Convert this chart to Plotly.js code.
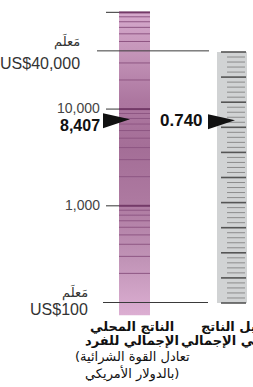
<!DOCTYPE html>
<html><head><meta charset="utf-8">
<script src="https://cdn.plot.ly/plotly-3.0.1.min.js"></script>
<style>html,body{margin:0;padding:0;background:#fff;}#chart{width:253px;height:387px;}</style>
</head><body><div id="chart"></div>
<script>
// ---- data ----
const gdpRange = [74, 100000];
const gdpMajorTicks = [1000, 10000, 100000];
const gdpMinorTicks = [200,300,400,500,600,700,800,900,2000,3000,4000,5000,6000,7000,8000,9000,20000,30000,50000,60000,70000,80000,90000];
const gdpGoalposts = [100, 40000];
const gdpGoalpostLabels = ['US$100', 'US$40,000'];
const goalpostWord = 'مَعلَم';
const gdpTickLabelValues = [1000, 10000];
const gdpTickLabels = ['1,000', '10,000'];
const gdpValue = [8407];
const gdpValueLabel = ['8,407'];
const indexRange = [0, 1];
const indexMajorTicks = [0,0.1,0.2,0.3,0.4,0.5,0.6,0.7,0.8,0.9,1.0];
const indexMinorTicks = [0.02,0.04,0.06,0.08,0.12,0.14,0.16,0.18,0.22,0.24,0.26,0.28,0.32,0.34,0.36,0.38,0.42,0.44,0.46,0.48,0.52,0.54,0.56,0.58,0.62,0.64,0.66,0.68,0.72,0.74,0.76,0.78,0.82,0.84,0.86,0.88,0.92,0.94,0.96,0.98];
const indexValue = [0.740];
const indexValueLabel = ['0.740'];
const gdpTitle = ['الناتج المحلي', 'الإجمالي للفرد'];
const gdpSubtitle = ['(تعادل القوة الشرائية', 'بالدولار الأمريكي)'];
const indexTitle = ['دليل الناتج', 'المحلي الإجمالي'];

// ---- layout constants ----
const LB = [119, 150];   // left bar x extent
const RB = [217, 247];   // right bar x extent
const NUMF = 'Liberation Sans, Arial, sans-serif';
const ARF = 'DejaVu Sans, sans-serif';

function segs(vals, x0, x1) {
  const x = [], y = [];
  vals.forEach(v => { x.push(x0, x1, null); y.push(v, v, null); });
  return {x, y};
}
function lineTrace(vals, x0, x1, color, width, yaxis) {
  const s = segs(vals, x0, x1);
  return {type:'scatter', mode:'lines', x:s.x, y:s.y, yaxis:yaxis,
    line:{color:color, width:width}, hoverinfo:'skip', showlegend:false};
}

const traces = [];
// left gradient bar
traces.push({type:'scatter', mode:'lines', x:[LB[0],LB[1],LB[1],LB[0],LB[0]],
  y:[gdpRange[0],gdpRange[0],gdpRange[1],gdpRange[1],gdpRange[0]], yaxis:'y',
  fill:'toself', line:{width:0, color:'rgba(0,0,0,0)'},
  fillgradient:{type:'vertical', colorscale:[
    [0,'#dcaed2'],[0.18,'#c194b7'],[0.38,'#ad79a0'],[0.55,'#a46e97'],
    [0.71,'#ad77a0'],[0.875,'#c596ba'],[1,'#d6a9cc']]},
  hoverinfo:'skip', showlegend:false});
traces.push(lineTrace(gdpMinorTicks, LB[0], LB[1], '#8e5683', 1, 'y'));
traces.push(lineTrace(gdpMajorTicks, LB[0], LB[1], '#743a68', 2, 'y'));
traces.push(lineTrace(gdpMajorTicks, 106, LB[0], '#555555', 1.2, 'y'));
// right grey bar
traces.push({type:'bar', x:[(RB[0]+RB[1])/2], y:[indexRange[1]-indexRange[0]], base:[indexRange[0]],
  width:[RB[1]-RB[0]], yaxis:'y2', marker:{color:'#d1d3d4', line:{width:0}},
  hoverinfo:'skip', showlegend:false});
traces.push(lineTrace(indexMinorTicks, 227, 245, '#8c8c8c', 1, 'y2'));
traces.push(lineTrace(indexMajorTicks, 221, 246, '#555555', 1.6, 'y2'));
// goalpost lines
traces.push({type:'scatter', mode:'lines', x:[97,209,null,103,208], y:[gdpGoalposts[1],gdpGoalposts[1],null,gdpGoalposts[0],gdpGoalposts[0]],
  yaxis:'y', line:{color:'#3a3a3a', width:1}, hoverinfo:'skip', showlegend:false});

const L = Math.log10;
const shapes = [
  {type:'path', xref:'x', yref:'y', xsizemode:'pixel', ysizemode:'pixel', xanchor:130, yanchor:gdpValue[0],
   path:'M-27,3 L0,-3 L-27,-12 Z', fillcolor:'#111', line:{width:0}},
  {type:'path', xref:'x', yref:'y2', xsizemode:'pixel', ysizemode:'pixel', xanchor:235, yanchor:indexValue[0],
   path:'M-27,3 L0,-3 L-27,-12 Z', fillcolor:'#111', line:{width:0}}
];

const ann = [];
function A(o) { ann.push(Object.assign({showarrow:false, xref:'x'}, o)); }
gdpTickLabelValues.forEach((v,i) => A({x:102, y:L(v), yref:'y', xanchor:'right', yanchor:'middle', yshift:1,
  text:gdpTickLabels[i], font:{family:NUMF, size:14, color:'#444'}}));
A({x:102, y:L(gdpValue[0]), yref:'y', xanchor:'right', yanchor:'middle', yshift:-9,
  text:'<b>'+gdpValueLabel[0]+'</b>', font:{family:NUMF, size:16, color:'#111'}});
A({x:205, y:indexValue[0], yref:'y2', xanchor:'right', yanchor:'middle', yshift:-3,
  text:'<b>'+indexValueLabel[0]+'</b>', font:{family:NUMF, size:17, color:'#111'}});
// goalposts
A({x:82, y:L(gdpGoalposts[1]), yref:'y', xanchor:'right', yanchor:'middle', yshift:-13,
  text:gdpGoalpostLabels[1], font:{family:NUMF, size:16, color:'#333'}});
A({x:82, y:L(gdpGoalposts[1]), yref:'y', xanchor:'right', yanchor:'middle', yshift:9,
  text:goalpostWord, font:{family:ARF, size:13, color:'#333'}});
A({x:90, y:L(gdpGoalposts[0]), yref:'y', xanchor:'right', yanchor:'middle', yshift:-7,
  text:gdpGoalpostLabels[0], font:{family:NUMF, size:16, color:'#333'}});
A({x:90, y:L(gdpGoalposts[0]), yref:'y', xanchor:'right', yanchor:'middle', yshift:10,
  text:goalpostWord, font:{family:ARF, size:13, color:'#333'}});
// bottom titles
const H = 387;
const py = px => 1 - px / H;
A({x:132, y:py(326), yref:'paper', xanchor:'center', yanchor:'middle', text:'<b>'+gdpTitle[0]+'</b>', font:{family:ARF, size:13, color:'#111'}});
A({x:132, y:py(340), yref:'paper', xanchor:'center', yanchor:'middle', text:'<b>'+gdpTitle[1]+'</b>', font:{family:ARF, size:13, color:'#111'}});
A({x:132, y:py(357), yref:'paper', xanchor:'center', yanchor:'middle', text:gdpSubtitle[0], font:{family:ARF, size:13, color:'#111'}});
A({x:132, y:py(373), yref:'paper', xanchor:'center', yanchor:'middle', text:gdpSubtitle[1], font:{family:ARF, size:13, color:'#111'}});
A({x:234, y:py(326), yref:'paper', xanchor:'center', yanchor:'middle', text:'<b>'+indexTitle[0]+'</b>', font:{family:ARF, size:13, color:'#111'}});
A({x:234, y:py(340), yref:'paper', xanchor:'center', yanchor:'middle', text:'<b>'+indexTitle[1]+'</b>', font:{family:ARF, size:13, color:'#111'}});

const layout = {
  width:253, height:387, margin:{l:0,r:0,t:0,b:0,pad:0},
  paper_bgcolor:'#fff', plot_bgcolor:'rgba(0,0,0,0)', showlegend:false,
  xaxis:{range:[0,253], visible:false, fixedrange:true},
  yaxis:{type:'log', range:[1.1262, 5.128], visible:false, fixedrange:true},
  yaxis2:{overlaying:'y', range:[-0.3347, 1.2072], visible:false, fixedrange:true},
  shapes:shapes, annotations:ann
};
Plotly.newPlot('chart', traces, layout, {staticPlot:true, displayModeBar:false});
</script></body></html>
